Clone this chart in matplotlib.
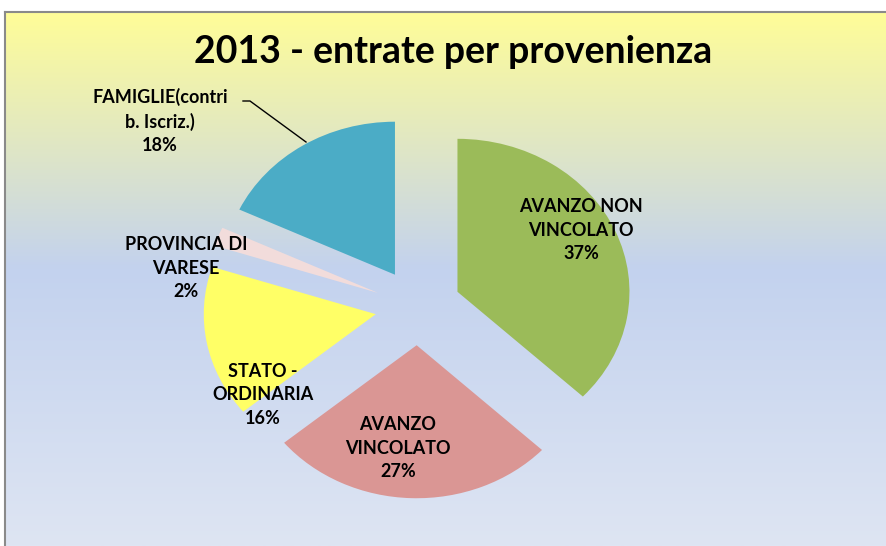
import numpy as np
import matplotlib
matplotlib.use("Agg")
import matplotlib.pyplot as plt
from matplotlib.colors import LinearSegmentedColormap

# data
categories = ['AVANZO NON\nVINCOLATO', 'AVANZO\nVINCOLATO', 'STATO -\nORDINARIA',
              'PROVINCIA DI\nVARESE', 'FAMIGLIE(contri\nb. Iscriz.)']
shares = [37, 27, 16, 2, 18]
colors = ['#9BBB59', '#DA9694', '#FFFF66', '#F2DCDB', '#4BACC6']
title = '2013 - entrate per provenienza'

W, H = 886, 546
fig = plt.figure(figsize=(W / 100, H / 100), dpi=100)
fig.patch.set_facecolor('white')

# gradient background panel
bg = fig.add_axes([5 / W, 0, (W - 5) / W, (H - 12) / H])
grad = LinearSegmentedColormap.from_list(
    'bg', [(0.0, '#FFFD98'), (0.48, '#C3D2EE'), (1.0, '#DEE5F3')])
bg.imshow(np.linspace(0, 1, 256).reshape(-1, 1), aspect='auto', cmap=grad,
          extent=[0, 1, 0, 1], origin='upper')
bg.set_xticks([])
bg.set_yticks([])
for s in ['right', 'bottom']:
    bg.spines[s].set_visible(False)
for s in ['left', 'top']:
    bg.spines[s].set_color('#8a8a8a')
    bg.spines[s].set_linewidth(1.5)

# pie axes, full figure, stretched horizontally
ax = fig.add_axes([0, 0, 1, 1])
ax.patch.set_visible(False)
cx, cy = 418, H - 307
sx, sy = 172, 153
wedges, _ = ax.pie(shares, colors=colors, startangle=90, counterclock=False,
                   explode=[0.25] * len(shares), wedgeprops=dict(linewidth=0))
ax.set_aspect('auto')
ax.set_xlim(-cx / sx, (W - cx) / sx)
ax.set_ylim(-cy / sy, (H - cy) / sy)
ax.axis('off')

font = ['Lato', 'DejaVu Sans']
fig.text(453 / W, 1 - 52 / H, title, ha='center', va='center',
         fontsize=27, fontweight='bold', family=font)

label_pos = [(581, 230), (398, 448), (263, 395), (186, 268), (160, 121)]
for cat, val, (px, py) in zip(categories, shares, label_pos):
    fig.text(px / W, 1 - py / H, f'{cat}\n{val}%', ha='center', va='center',
             fontsize=13, fontweight='bold', family=font, linespacing=1.45)

# leader line for FAMIGLIE label
fig.add_artist(plt.Line2D([243 / W, 250 / W, 306 / W],
                          [1 - 101 / H, 1 - 101 / H, 1 - 142 / H],
                          color='black', linewidth=1))

fig.savefig('out.png', dpi=100)
